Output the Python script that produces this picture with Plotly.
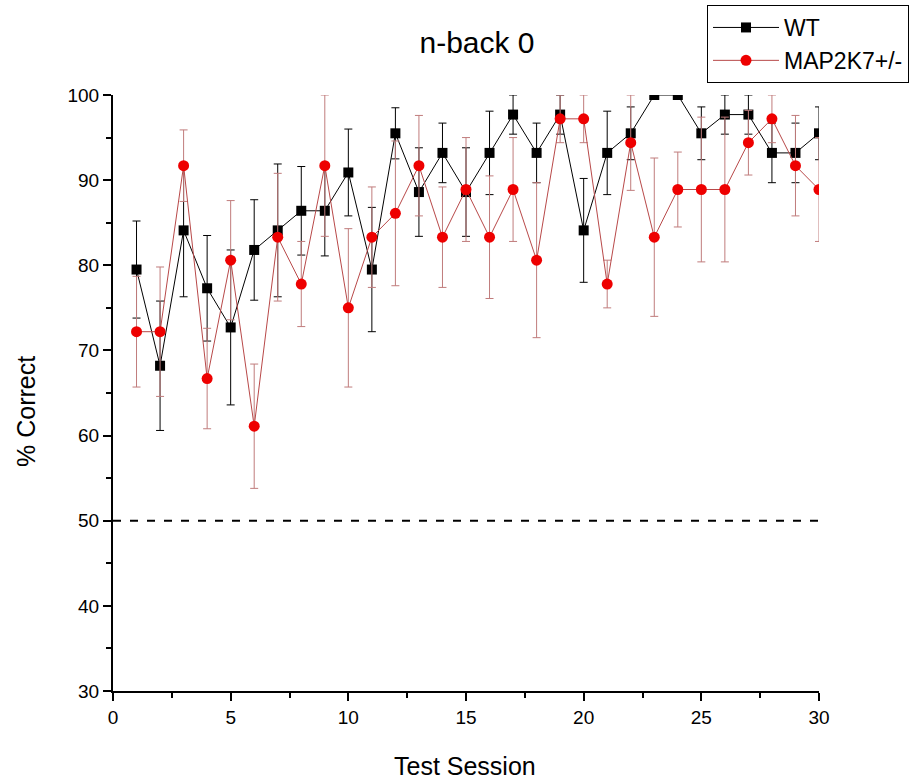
import plotly.graph_objects as go

# Test sessions 1..30
sessions = list(range(1, 31))

# WT group: mean % correct and SEM
wt_mean = [79.5, 68.2, 84.1, 77.3, 72.7, 81.8, 84.1, 86.4, 86.4, 90.9,
           79.5, 95.5, 88.6, 93.2, 88.6, 93.2, 97.7, 93.2, 97.7, 84.1,
           93.2, 95.5, 100.0, 100.0, 95.5, 97.7, 97.7, 93.2, 93.2, 95.5]
wt_sem = [5.7, 7.6, 7.8, 6.2, 9.1, 5.9, 7.8, 5.2, 5.3, 5.1,
          7.3, 3.0, 5.2, 3.5, 5.2, 4.9, 2.3, 3.5, 2.3, 6.1,
          4.9, 3.1, 0.0, 0.0, 3.1, 2.3, 2.3, 3.5, 3.5, 3.1]

# MAP2K7+/- group: mean % correct and SEM
het_mean = [72.2, 72.2, 91.7, 66.7, 80.6, 61.1, 83.3, 77.8, 91.7, 75.0,
            83.3, 86.1, 91.7, 83.3, 88.9, 83.3, 88.9, 80.6, 97.2, 97.2,
            77.8, 94.4, 83.3, 88.9, 88.9, 88.9, 94.4, 97.2, 91.7, 88.9]
het_sem = [6.5, 7.6, 4.2, 5.9, 7.0, 7.3, 7.5, 5.0, 8.3, 9.3,
           5.9, 8.5, 5.9, 5.9, 6.1, 7.2, 6.1, 9.1, 2.8, 2.8,
           2.8, 5.6, 9.3, 4.4, 8.5, 8.5, 3.8, 2.8, 5.9, 6.1]

chance_level = 50
x_range = [0, 30]
y_range = [30, 100]

FONT = "Arial, 'Liberation Sans', sans-serif"

# plot-area geometry (px)
W, H = 916, 782
ML, MR, MT, MB = 113, 97, 95, 91
PW, PH = W - ML - MR, H - MT - MB

fig = go.Figure()

fig.add_trace(go.Scatter(
    x=sessions, y=wt_mean, name="WT",
    mode="lines+markers",
    line=dict(color="#000000", width=1),
    marker=dict(symbol="square", size=10, color="#000000"),
    error_y=dict(type="data", array=wt_sem, visible=True,
                 color="#000000", thickness=1, width=4),
))

fig.add_trace(go.Scatter(
    x=sessions, y=het_mean, name="MAP2K7+/-",
    mode="lines+markers",
    line=dict(color="#b84848", width=1),
    marker=dict(symbol="circle", size=11, color="#ee0000"),
    error_y=dict(type="data", array=het_sem, visible=True,
                 color="#c07c7c", thickness=1, width=4),
))

# chance-level reference line
fig.add_shape(type="line", xref="x", yref="y",
              x0=x_range[0], x1=x_range[1], y0=chance_level, y1=chance_level,
              line=dict(color="#000000", width=2, dash="8px,9px"), layer="below")

axis_common = dict(
    showgrid=False, zeroline=False, showline=True,
    linecolor="#000000", linewidth=2, mirror=False,
    ticks="outside", ticklen=8, tickwidth=2, tickcolor="#000000",
    tickfont=dict(family=FONT, size=19, color="#000000"),
)

fig.update_xaxes(
    range=x_range, dtick=5, tick0=0,
    minor=dict(ticks="outside", ticklen=5, tickwidth=2, dtick=2.5, tickcolor="#000000"),
    **axis_common,
)
fig.update_yaxes(
    range=y_range, dtick=10, tick0=0,
    minor=dict(ticks="outside", ticklen=5, tickwidth=2, dtick=5, tickcolor="#000000"),
    **axis_common,
)

# axis titles
title_font = dict(family=FONT, size=25, color="#000000")
fig.add_annotation(text="Test Session", xref="paper", yref="paper",
                   x=(465 - ML) / PW, y=(H - MB - 766) / PH,
                   xanchor="center", yanchor="middle", showarrow=False, font=title_font)
fig.add_annotation(text="% Correct", xref="paper", yref="paper",
                   x=(26 - ML) / PW, y=(H - MB - 412) / PH, textangle=-90,
                   xanchor="center", yanchor="middle", showarrow=False, font=title_font)

fig.update_layout(
    width=W, height=H,
    margin=dict(l=ML, r=MR, t=MT, b=MB, autoexpand=False),
    paper_bgcolor="white", plot_bgcolor="white",
    title=dict(text="n-back 0", x=477 / W, xref="container", xanchor="center",
               y=1 - 42 / H, yanchor="middle",
               font=dict(family=FONT, size=30, color="#000000")),
    legend=dict(x=(707 - ML) / PW, y=(H - MB - 5) / PH, xanchor="left", yanchor="top",
                bgcolor="white", bordercolor="#000000", borderwidth=1,
                font=dict(family=FONT, size=23, color="#000000"),
                itemwidth=66, tracegroupgap=0),
    showlegend=True,
)

fig.write_html("out.html")
